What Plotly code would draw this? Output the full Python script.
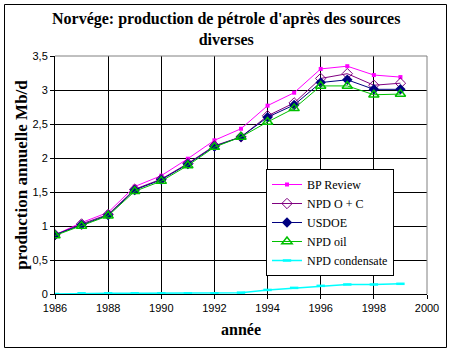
import plotly.graph_objects as go

years = list(range(1986, 2000))
bp_review = [0.87, 1.05, 1.20, 1.58, 1.74, 1.99, 2.26, 2.43, 2.77, 2.96, 3.31, 3.35, 3.22, 3.19]
npd_oc = [0.87, 1.03, 1.17, 1.54, 1.69, 1.92, 2.18, 2.31, 2.62, 2.81, 3.17, 3.24, 3.07, 3.10]
usdoe = [0.87, 1.02, 1.16, 1.53, 1.68, 1.91, 2.17, 2.31, 2.60, 2.78, 3.11, 3.15, 3.01, 3.01]
npd_oil = [0.86, 1.00, 1.15, 1.51, 1.66, 1.89, 2.16, 2.31, 2.53, 2.73, 3.06, 3.06, 2.93, 2.94]
npd_cond = [0.0, 0.01, 0.01, 0.01, 0.01, 0.01, 0.01, 0.02, 0.06, 0.09, 0.12, 0.14, 0.14, 0.15]
title_text = "Norvége: production de pétrole d'après des sources<br>diverses"

serif = "Liberation Serif"
sans = "Liberation Sans"

fig = go.Figure()
fig.add_trace(go.Scatter(x=years, y=bp_review, name="BP Review", mode="lines+markers",
                         line=dict(color="#FF00FF", width=1),
                         marker=dict(symbol="square", size=4, color="#FF00FF")))
fig.add_trace(go.Scatter(x=years, y=npd_oc, name="NPD O + C", mode="lines+markers",
                         line=dict(color="#800080", width=1),
                         marker=dict(symbol="diamond-open", size=8, color="#800080", line=dict(width=1))))
fig.add_trace(go.Scatter(x=years, y=usdoe, name="USDOE", mode="lines+markers",
                         line=dict(color="#000080", width=1),
                         marker=dict(symbol="diamond", size=8, color="#000080")))
fig.add_trace(go.Scatter(x=years, y=npd_oil, name="NPD oil", mode="lines+markers",
                         line=dict(color="#00C000", width=1),
                         marker=dict(symbol="triangle-up-open", size=9, color="#00C000", line=dict(width=1.5))))
fig.add_trace(go.Scatter(x=years, y=npd_cond, name="NPD condensate", mode="lines+markers",
                         line=dict(color="#00FFFF", width=1.5),
                         marker=dict(symbol="line-ew-open", size=6, color="#00FFFF", line=dict(width=2.5, color="#00FFFF"))))

pw, ph = 453 - 55 - 26, 353 - 56 - 59
def px2x(p):
    return (p - 55) / pw
def py2y(p):
    return (353 - 59 - p) / ph

fig.update_layout(
    width=453, height=353,
    margin=dict(l=55, r=26, t=56, b=59),
    paper_bgcolor="white", plot_bgcolor="white",
    separators=", ",
    font=dict(family=sans, size=10, color="black"),
    showlegend=True,
    legend=dict(x=px2x(266), y=py2y(169), xanchor="left", yanchor="top",
                bgcolor="white", bordercolor="black", borderwidth=1,
                font=dict(family=serif, size=12, color="black"),
                tracegroupgap=0, itemwidth=30),
    xaxis=dict(range=[1986, 2000], dtick=2, tick0=1986, showgrid=True, gridcolor="black", gridwidth=1,
               showline=True, linecolor="black", linewidth=1, mirror=False,
               ticks="outside", ticklen=4, tickcolor="black", zeroline=False,
               title=dict(text="<b>année</b>", font=dict(family=serif, size=16, color="black"), standoff=10),
               tickfont=dict(family=sans, size=11)),
    yaxis=dict(range=[0, 3.5], dtick=0.5, showgrid=True, gridcolor="black", gridwidth=1,
               showline=True, linecolor="black", linewidth=1,
               ticks="outside", ticklen=4, tickcolor="black", zeroline=False,
               title=dict(text="<b>production annuelle Mb/d</b>", font=dict(family=serif, size=17, color="black"), standoff=0),
               tickfont=dict(family=sans, size=11)),
)

# title as a single annotation
fig.add_annotation(text="<b>" + title_text + "</b>", xref="paper", yref="paper",
                   x=px2x(226), y=py2y(29.5), xanchor="center", yanchor="middle",
                   showarrow=False, font=dict(family=serif, size=16, color="black"))

# plot area gray border (top and right)
fig.add_shape(type="line", xref="paper", yref="paper", x0=0, x1=1, y0=1, y1=1,
              line=dict(color="#808080", width=1), layer="above")
fig.add_shape(type="line", xref="paper", yref="paper", x0=1, x1=1, y0=0, y1=1,
              line=dict(color="#808080", width=1), layer="above")

# outer chart border
fig.add_shape(type="rect", xref="paper", yref="paper",
              x0=px2x(4.5), x1=px2x(446.5), y0=py2y(347.5), y1=py2y(4.5),
              line=dict(color="black", width=1), layer="below")

fig.write_html("out.html")
